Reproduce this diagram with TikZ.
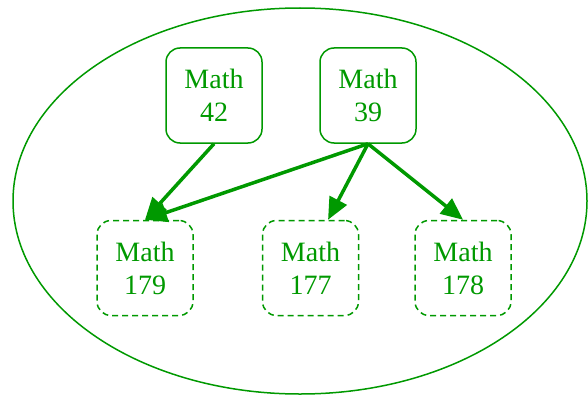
\documentclass[tikz,border=0pt]{standalone}
\usepackage{fontspec}
\setmainfont{Liberation Serif}
\usetikzlibrary{arrows.meta}
\definecolor{mgreen}{HTML}{009900}
\tikzset{
  course/.style={draw=mgreen, text=mgreen, line width=1.5pt, rounded corners=14pt,
    minimum width=96pt, minimum height=95pt, align=center,
    font=\fontsize{28}{33}\selectfont},
  planned/.style={course, dash pattern=on 6pt off 4pt},
  prereq/.style={draw=mgreen, line width=3.5pt, -{Triangle[length=22pt,width=19pt]}}
}
\begin{document}
\begin{tikzpicture}[x=1pt,y=-1pt]
\useasboundingbox (0,0) rectangle (588,396);
% bubble round the group
\draw[mgreen, line width=1.5pt] (300,201) ellipse [x radius=287, y radius=193];
\node[course] (m42) at (214,95.5) {Math\\42};
\node[course] (m39) at (368,95.5) {Math\\39};
\node[planned] (m179) at (145,268) {Math\\179};
\node[planned] (m177) at (310.5,268) {Math\\177};
\node[planned] (m178) at (463,268) {Math\\178};
% prerequisites
\draw[prereq] (m42.south) -- (m179.north);
\draw[prereq] (m39.south) -- (m179.north);
\draw[prereq] (m39.south) -- (m177.70);
\draw[prereq] (m39.south) -- (m178.north);
\end{tikzpicture}
\end{document}
